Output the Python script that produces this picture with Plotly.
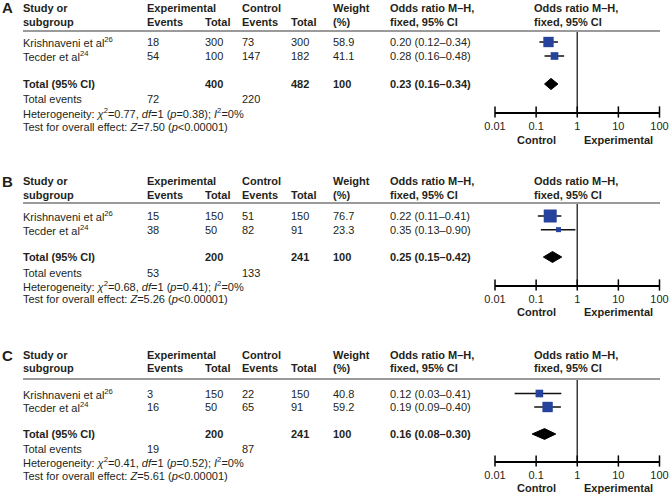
import plotly.graph_objects as go

W, H = 669, 495

# ---------------- data ----------------
panel_labels = ["A", "B", "C"]
studies = ["Krishnaveni et al<sup>26</sup>", "Tecder et al<sup>24</sup>"]
exp_events = [[18, 54], [15, 38], [3, 16]]
exp_total = [[300, 100], [150, 50], [150, 50]]
ctl_events = [[73, 147], [51, 82], [22, 65]]
ctl_total = [[300, 182], [150, 91], [150, 91]]
weights = [[58.9, 41.1], [76.7, 23.3], [40.8, 59.2]]
or_est = [[0.20, 0.28], [0.22, 0.35], [0.12, 0.19]]
or_lo = [[0.12, 0.16], [0.11, 0.13], [0.03, 0.09]]
or_hi = [[0.34, 0.48], [0.41, 0.90], [0.41, 0.40]]
tot_exp_total = [400, 200, 200]
tot_ctl_total = [482, 241, 241]
tot_exp_events = [72, 53, 19]
tot_ctl_events = [220, 133, 87]
tot_weight = [100, 100, 100]
tot_est = [0.23, 0.25, 0.16]
tot_lo = [0.16, 0.15, 0.08]
tot_hi = [0.34, 0.42, 0.30]
chi2 = [0.77, 0.68, 0.41]
df_vals = [1, 1, 1]
het_p = [0.38, 0.41, 0.52]
i2 = [0, 0, 0]
z_vals = [7.50, 5.26, 5.61]
tick_vals = [0.01, 0.1, 1, 10, 100]
tick_text = ["0.01", "0.1", "1", "10", "100"]
study_rows = [0, 1]
total_row = 3

# ---------------- layout geometry (pixels) ----------------
geo = [
    dict(h1=8, h2=22, line=31, row0=42, pitch=14.0, events=99, het=113, test=127, axis=112, ctrl=140),
    dict(h1=181, h2=195, line=203, row0=216, pitch=13.67, events=273, het=286, test=299, axis=285, ctrl=312),
    dict(h1=355, h2=368, line=379, row0=393.5, pitch=13.5, events=449, het=462, test=476, axis=461, ctrl=488),
]
col = dict(study=23, ee=147, et=205, ce=242, ct=291, wt=333, ort=390, fh=534)
forest_x0, forest_x1 = 495, 659.5
line_x0, line_x1 = 23, 660

FONT = "Liberation Sans, Arial, sans-serif"
TXT = "#231f20"
FS = 11
BLUE = "#25439c"


def px(x):
    return x / W


def py(y):
    return 1 - y / H


fig = go.Figure()
annotations = []
shapes = []


def add_text(x, y, text, bold=False, size=FS, xanchor="left"):
    if bold:
        text = "<b>" + text + "</b>"
    annotations.append(dict(
        x=px(x), y=py(y), xref="paper", yref="paper", text=text,
        showarrow=False, xanchor=xanchor, yanchor="middle", borderpad=0, borderwidth=0,
        font=dict(family=FONT, size=size, color=TXT),
    ))


for p in range(3):
    g = geo[p]
    sfx = "" if p == 0 else str(p + 1)
    xa, ya = "x" + sfx, "y" + sfx

    def rowpx(r):
        return g["row0"] + g["pitch"] * r

    y_bottom = (g["axis"] - g["row0"]) / g["pitch"]
    y_top = (g["line"] - g["row0"]) / g["pitch"]

    # panel letter
    add_text(2, g["h1"], panel_labels[p], bold=True, size=15)
    # headers
    add_text(col["study"], g["h1"], "Study or", bold=True)
    add_text(col["study"], g["h2"], "subgroup", bold=True)
    add_text(col["ee"], g["h1"], "Experimental", bold=True)
    add_text(col["ee"], g["h2"], "Events", bold=True)
    add_text(col["et"], g["h2"], "Total", bold=True)
    add_text(col["ce"], g["h1"], "Control", bold=True)
    add_text(col["ce"], g["h2"], "Events", bold=True)
    add_text(col["ct"], g["h2"], "Total", bold=True)
    add_text(col["wt"], g["h1"], "Weight", bold=True)
    add_text(col["wt"], g["h2"], "(%)", bold=True)
    add_text(col["ort"], g["h1"], "Odds ratio M–H,", bold=True)
    add_text(col["ort"], g["h2"], "fixed, 95% CI", bold=True)
    add_text(col["fh"], g["h1"], "Odds ratio M–H,", bold=True)
    add_text(col["fh"], g["h2"], "fixed, 95% CI", bold=True)

    shapes.append(dict(type="line", xref="paper", yref="paper",
                       x0=px(line_x0), x1=px(line_x1), y0=py(g["line"]), y1=py(g["line"]),
                       line=dict(color="#9a9a9a", width=2)))

    # study rows
    for i, r in enumerate(study_rows):
        y = rowpx(r)
        add_text(col["study"], y, studies[i])
        add_text(col["ee"], y, str(exp_events[p][i]))
        add_text(col["et"], y, str(exp_total[p][i]))
        add_text(col["ce"], y, str(ctl_events[p][i]))
        add_text(col["ct"], y, str(ctl_total[p][i]))
        add_text(col["wt"], y, f"{weights[p][i]:.1f}")
        add_text(col["ort"], y, f"{or_est[p][i]:.2f} ({or_lo[p][i]:.2f}–{or_hi[p][i]:.2f})")

    # total row
    y = rowpx(total_row)
    add_text(col["study"], y, "Total (95% CI)", bold=True)
    add_text(col["et"], y, str(tot_exp_total[p]), bold=True)
    add_text(col["ct"], y, str(tot_ctl_total[p]), bold=True)
    add_text(col["wt"], y, str(tot_weight[p]), bold=True)
    add_text(col["ort"], y, f"{tot_est[p]:.2f} ({tot_lo[p]:.2f}–{tot_hi[p]:.2f})", bold=True)

    add_text(col["study"], g["events"], "Total events")
    add_text(col["ee"], g["events"], str(tot_exp_events[p]))
    add_text(col["ce"], g["events"], str(tot_ctl_events[p]))
    add_text(col["study"], g["het"],
             f"Heterogeneity: <i>χ</i><sup>2</sup>={chi2[p]:.2f}, <i>df</i>={df_vals[p]} "
             f"(<i>p</i>={het_p[p]:.2f}); <i>I</i><sup>2</sup>={i2[p]}%")
    add_text(col["study"], g["test"],
             f"Test for overall effect: <i>Z</i>={z_vals[p]:.2f} (<i>p</i>&lt;0.00001)")

    # forest: vertical line of no effect
    fig.add_trace(go.Scatter(x=[1, 1], y=[y_top, y_bottom], mode="lines",
                             line=dict(color="#3a3a3a", width=1.5), xaxis=xa, yaxis=ya,
                             hoverinfo="skip", showlegend=False, cliponaxis=False))
    # CI lines
    for i, r in enumerate(study_rows):
        fig.add_trace(go.Scatter(x=[or_lo[p][i], or_hi[p][i]], y=[r, r], mode="lines",
                                 line=dict(color="#111111", width=1.5), xaxis=xa, yaxis=ya,
                                 showlegend=False, hoverinfo="skip", cliponaxis=False))
    # squares (size grows with weight)
    fig.add_trace(go.Scatter(x=or_est[p], y=study_rows, mode="markers",
                             marker=dict(symbol="square", color=BLUE, opacity=1,
                                         size=[1.5 + 0.15 * w for w in weights[p]],
                                         line=dict(width=0)),
                             xaxis=xa, yaxis=ya, showlegend=False, cliponaxis=False))
    # diamond
    dh = 0.4
    fig.add_trace(go.Scatter(
        x=[tot_lo[p], tot_est[p], tot_hi[p], tot_est[p], tot_lo[p]],
        y=[total_row, total_row - dh, total_row, total_row + dh, total_row],
        mode="lines", fill="toself", fillcolor="black", line=dict(color="black", width=1),
        xaxis=xa, yaxis=ya, showlegend=False, hoverinfo="skip", cliponaxis=False))
    # centred tick marks on axis line
    fig.add_trace(go.Scatter(x=tick_vals, y=[y_bottom] * len(tick_vals), mode="markers",
                             marker=dict(symbol="line-ns", size=8,
                                         line=dict(color="black", width=1.5)),
                             xaxis=xa, yaxis=ya, showlegend=False, hoverinfo="skip",
                             cliponaxis=False))

    # axes
    fig.layout["xaxis" + sfx] = dict(
        type="log", range=[-2, 2], domain=[px(forest_x0), px(forest_x1)],
        anchor=ya, showline=True, linecolor="black", linewidth=1.5, automargin=False,
        ticks="", tickvals=tick_vals, ticktext=tick_text, ticklabelstandoff=3,
        ticklabeloverflow="allow",
        tickfont=dict(family=FONT, size=FS, color=TXT),
        showgrid=False, zeroline=False, fixedrange=True)
    fig.layout["yaxis" + sfx] = dict(
        range=[y_bottom, y_top], domain=[py(g["axis"]), py(g["line"])], automargin=False,
        anchor=xa, visible=False, fixedrange=True, showgrid=False, zeroline=False)

    # Control / Experimental labels (log axis -> log10 positions)
    for xv, t in [(-1, "Control"), (1, "Experimental")]:
        annotations.append(dict(
            x=xv, y=py(g["ctrl"]), xref=xa, yref="paper", text="<b>" + t + "</b>",
            showarrow=False, xanchor="center", yanchor="middle", borderpad=0,
            font=dict(family=FONT, size=FS, color=TXT)))

fig.update_layout(
    width=W, height=H, margin=dict(l=0, r=0, t=0, b=0, autoexpand=False),
    paper_bgcolor="white", plot_bgcolor="white",
    annotations=annotations, shapes=shapes, showlegend=False,
)

fig.write_html("out.html", config={"displayModeBar": False},
               post_script="document.body.style.margin='0px';document.body.style.overflow='hidden';")
